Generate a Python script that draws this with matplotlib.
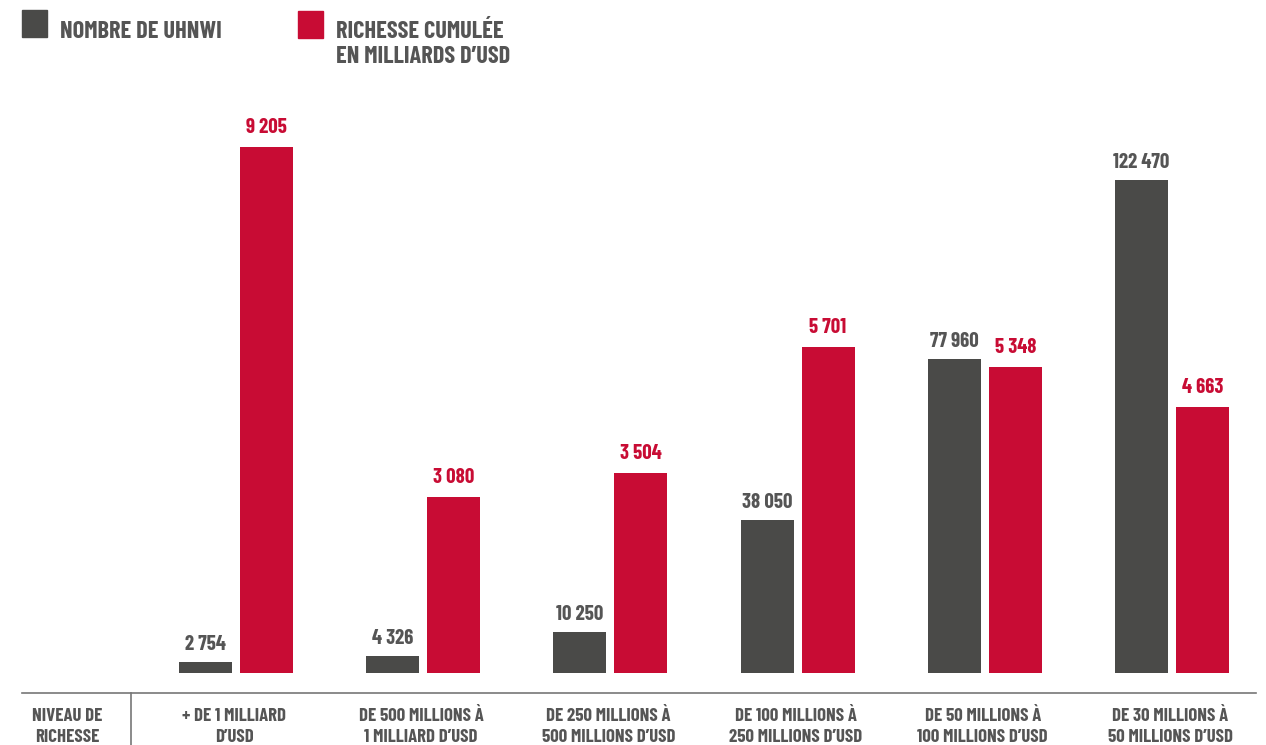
import matplotlib
matplotlib.use("Agg")
import matplotlib.pyplot as plt
from matplotlib.patches import Rectangle
from matplotlib.lines import Line2D

categories = ["+ DE 1 MILLIARD\nD\u2019USD",
              "DE 500 MILLIONS \u00c0\n1 MILLIARD D\u2019USD",
              "DE 250 MILLIONS \u00c0\n500 MILLIONS D\u2019USD",
              "DE 100 MILLIONS \u00c0\n250 MILLIONS D\u2019USD",
              "DE 50 MILLIONS \u00c0\n100 MILLIONS D\u2019USD",
              "DE 30 MILLIONS \u00c0\n50 MILLIONS D\u2019USD"]
uhnwi = [2754, 4326, 10250, 38050, 77960, 122470]
wealth = [9205, 3080, 3504, 5701, 5348, 4663]
uhnwi_labels = ["2 754", "4 326", "10 250", "38 050", "77 960", "122 470"]
wealth_labels = ["9 205", "3 080", "3 504", "5 701", "5 348", "4 663"]

GREY = "#4a4a48"
RED = "#c80c34"
TXT = "#555555"
FONT = ["Barlow Condensed", "DejaVu Sans"]
plt.rcParams['font.family'] = FONT
WT = 700

W, H = 1266, 745
fig = plt.figure(figsize=(W/100, H/100), dpi=100)

base_px = 673
ax = fig.add_axes([0, (H-base_px)/H, 1, base_px/H])
ax2 = ax.twinx()

spacing = 187.2
c0 = 236
ax.set_xlim(-c0/spacing, (W-c0)/spacing)
ax.set_ylim(0, 122470*base_px/493)
ax2.set_ylim(0, 9205*base_px/526)

bw = 53/spacing
off = 30.5/spacing
xs = list(range(len(categories)))
ax.bar([x-off for x in xs], uhnwi, width=bw, color=GREY)
ax2.bar([x+off for x in xs], wealth, width=bw, color=RED)

for a in (ax, ax2):
    a.axis("off")

for x, v, l in zip(xs, uhnwi, uhnwi_labels):
    ax.annotate(l, (x-off, v), xytext=(0, 12), textcoords="offset pixels",
                ha="center", va="baseline", fontsize=15, fontweight=WT, color=TXT)
for x, v, l in zip(xs, wealth, wealth_labels):
    ax2.annotate(l, (x+off, v), xytext=(0, 14), textcoords="offset pixels",
                 ha="center", va="baseline", fontsize=15, fontweight=WT, color=RED)

# bottom table
def fx(px): return px/W
def fy(py): return 1 - py/H
fig.add_artist(Line2D([fx(22), fx(1256)], [fy(693), fy(693)], color="#777777", lw=1.2))
fig.add_artist(Line2D([fx(131), fx(131)], [fy(693), fy(745)], color="#777777", lw=1.2))
fig.text(fx(67), fy(721), "NIVEAU DE", ha="center", va="baseline",
         fontsize=13.5, fontweight=WT, color=TXT)
fig.text(fx(67), fy(742), "RICHESSE", ha="center", va="baseline",
         fontsize=13.5, fontweight=WT, color=TXT)
for x, c in zip(xs, categories):
    px = c0 + spacing*x - 2
    l1, l2 = c.split("\n")
    fig.text(fx(px), fy(721), l1, ha="center", va="baseline", fontsize=13.5,
             fontweight=WT, color=TXT)
    fig.text(fx(px), fy(742), l2, ha="center", va="baseline", fontsize=13.5,
             fontweight=WT, color=TXT)

# legend
fig.add_artist(Rectangle((fx(22), fy(37)), 25/W, 27/H, color=GREY))
fig.add_artist(Rectangle((fx(298), fy(38)), 25/W, 27/H, color=RED))
fig.text(fx(60), fy(38), "NOMBRE DE UHNWI", ha="left", va="baseline",
         fontsize=17.5, fontweight=WT, color=TXT)
fig.text(fx(336), fy(38), "RICHESSE CUMUL\u00c9E", ha="left", va="baseline",
         fontsize=17.5, fontweight=WT, color=TXT)
fig.text(fx(336), fy(63), "EN MILLIARDS D\u2019USD", ha="left", va="baseline",
         fontsize=17.5, fontweight=WT, color=TXT)

fig.savefig("out.png", dpi=100)
